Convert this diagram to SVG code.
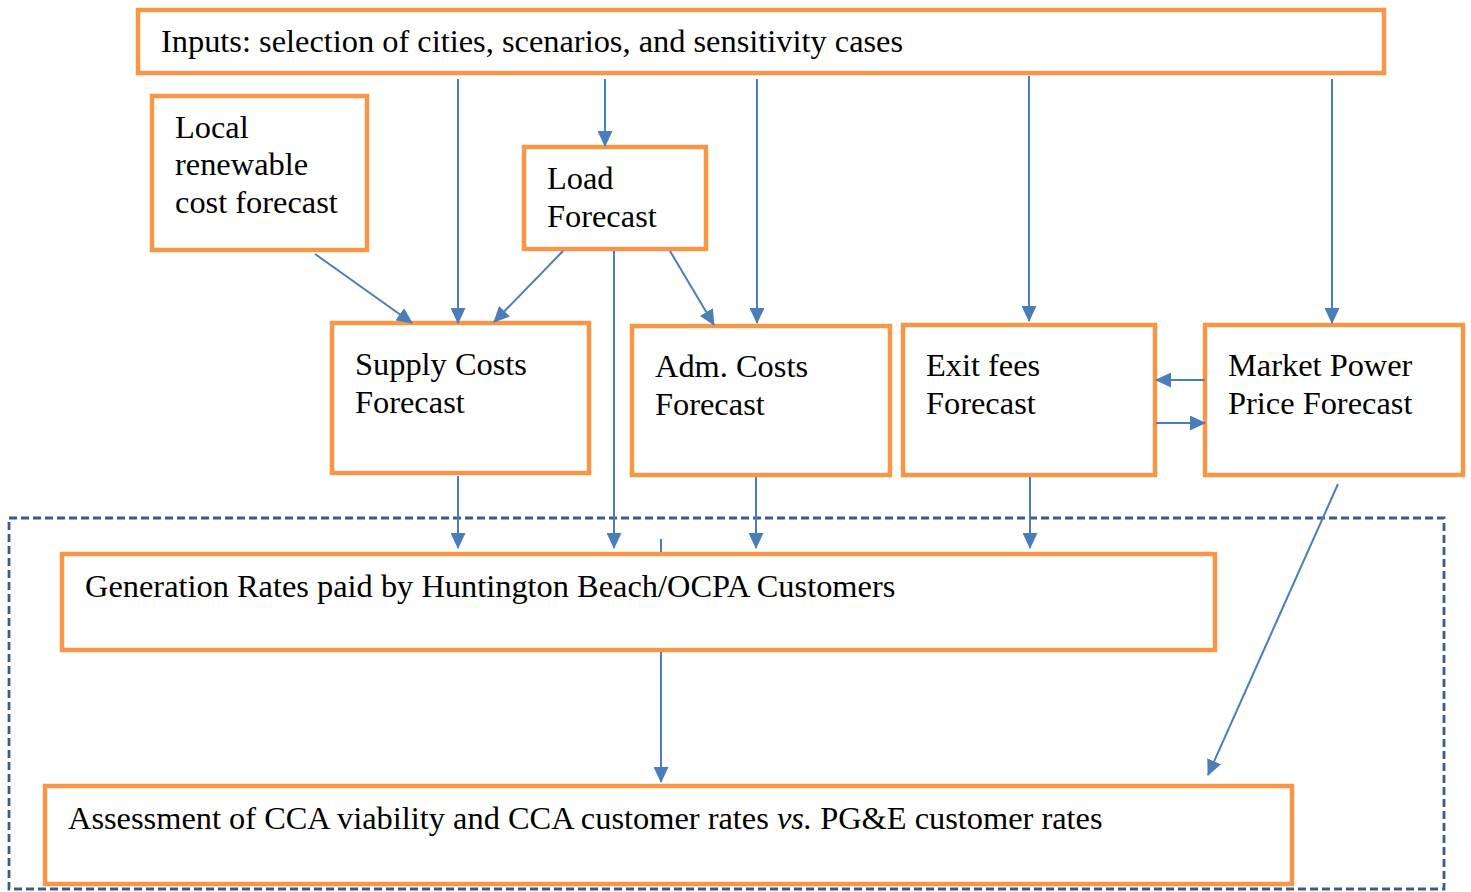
<svg xmlns="http://www.w3.org/2000/svg" width="1471" height="892" viewBox="0 0 1471 892">
<style>
.box{fill:#fff;stroke:#F79646;stroke-width:4.5}
.t{font-family:"Liberation Serif","Times New Roman",serif;font-size:32.4px;fill:#000}
.c{stroke:#4A7EBB;stroke-width:2;fill:none}
.a{marker-end:url(#ah)}
</style>
<defs>
<marker id="ah" markerUnits="userSpaceOnUse" markerWidth="16" markerHeight="15" viewBox="0 0 16 15" refX="15" refY="7.5" orient="auto">
<path d="M0,0 L16,7.5 L0,15 Z" fill="#4A7EBB"/>
</marker>
</defs>
<rect x="9" y="518" width="1435" height="371" fill="none" stroke="#385D8A" stroke-width="2.8" stroke-dasharray="8,4"/>
<g id="inputs"><rect class="box" x="138" y="10" width="1246" height="63"/><text class="t" x="161" y="52">Inputs: selection of cities, scenarios, and sensitivity cases</text></g>
<g id="local"><rect class="box" x="152" y="96" width="215" height="154"/><text class="t" x="175" y="138">Local</text><text class="t" x="175" y="175">renewable</text><text class="t" x="175" y="213">cost forecast</text></g>
<g id="load"><rect class="box" x="524" y="147" width="182" height="102"/><text class="t" x="547" y="189">Load</text><text class="t" x="547" y="227">Forecast</text></g>
<g id="supply"><rect class="box" x="332" y="323" width="257" height="150"/><text class="t" x="355" y="375">Supply Costs</text><text class="t" x="355" y="413">Forecast</text></g>
<g id="adm"><rect class="box" x="632" y="326" width="258" height="149"/><text class="t" x="655" y="377">Adm. Costs</text><text class="t" x="655" y="415">Forecast</text></g>
<g id="exit"><rect class="box" x="903" y="325" width="252" height="150"/><text class="t" x="926" y="376">Exit fees</text><text class="t" x="926" y="414">Forecast</text></g>
<g id="market"><rect class="box" x="1205" y="325" width="258" height="150"/><text class="t" x="1228" y="376">Market Power</text><text class="t" x="1228" y="414">Price Forecast</text></g>
<g id="generation"><rect class="box" x="62" y="554" width="1153" height="96"/><text class="t" x="85" y="597">Generation Rates paid by Huntington Beach/OCPA Customers</text></g>
<g id="assessment"><rect class="box" x="45" y="786" width="1247" height="98"/><text class="t" x="68" y="829">Assessment of CCA viability and CCA customer rates <tspan font-style="italic">vs.</tspan> PG&amp;E customer rates</text></g>
<g id="connectors">
<line class="c a" x1="458" y1="79" x2="458" y2="323"/>
<line class="c a" x1="605" y1="79" x2="605" y2="146"/>
<line class="c a" x1="757" y1="79" x2="757" y2="323"/>
<line class="c a" x1="1029" y1="76" x2="1029" y2="321"/>
<line class="c a" x1="1332" y1="79" x2="1332" y2="323"/>
<line class="c a" x1="315" y1="254" x2="412" y2="323"/>
<line class="c a" x1="563" y1="251" x2="494" y2="322"/>
<line class="c a" x1="614" y1="251" x2="614" y2="548"/>
<line class="c a" x1="670" y1="251" x2="714" y2="325"/>
<line class="c a" x1="458" y1="476" x2="458" y2="548"/>
<line class="c a" x1="756" y1="477" x2="756" y2="548"/>
<line class="c a" x1="1030" y1="477" x2="1030" y2="548"/>
<line class="c" x1="661" y1="539" x2="661" y2="552"/>
<line class="c a" x1="661" y1="652" x2="661" y2="782"/>
<line class="c a" x1="1338" y1="484" x2="1208" y2="775"/>
<line class="c a" x1="1205" y1="380" x2="1156" y2="380"/>
<line class="c a" x1="1156" y1="423" x2="1205" y2="423"/>
</g>
</svg>
